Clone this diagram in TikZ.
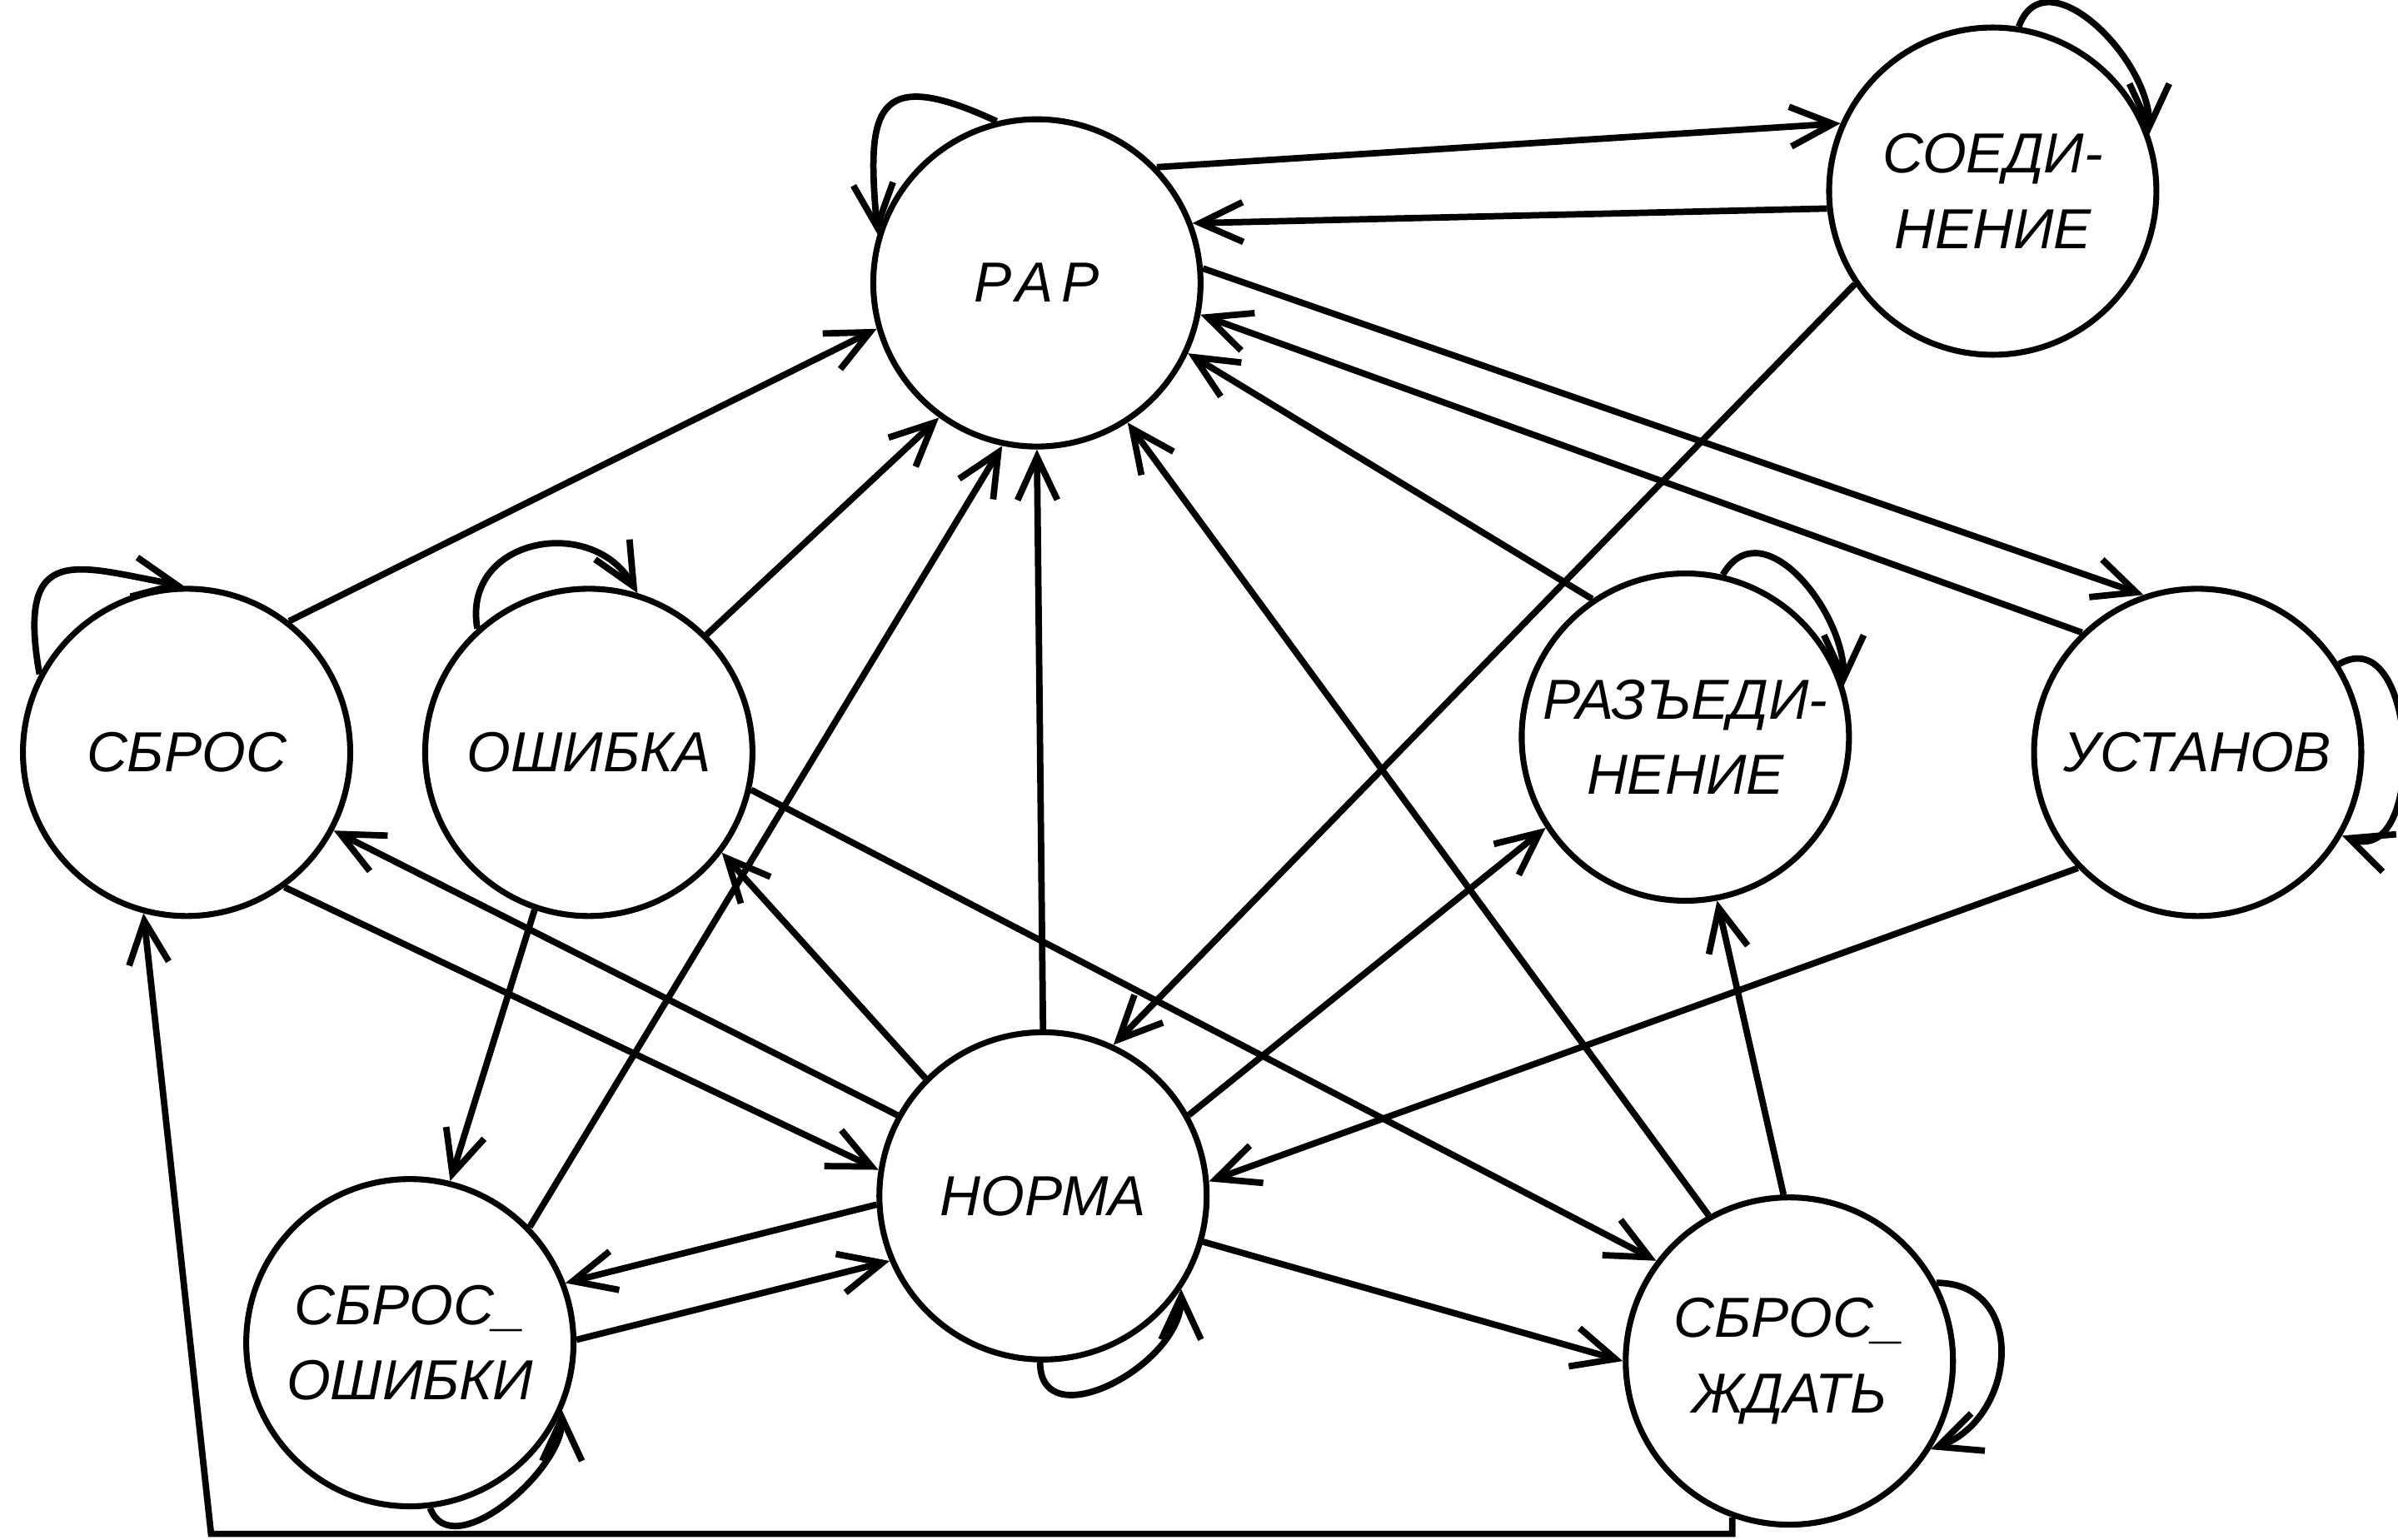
\documentclass[tikz,border=0pt]{standalone}
\usepackage{fontspec}
\setmainfont{Liberation Sans}
\usetikzlibrary{arrows.meta}

\begin{document}
\begin{tikzpicture}[every node/.style={font=\fontsize{10.5}{14}\selectfont\itshape},
  state/.style={draw, circle, line width=1.1pt, minimum size=2.14cm, inner sep=0pt, align=center},
  arr/.style={line width=1.2pt, -{Straight Barb[length=2.8mm,width=2.6mm]}}]
  \useasboundingbox (0,0) rectangle (15.68,10.07);
  \node [state] (rap) at (6.78, 8.22) {\addfontfeature{LetterSpace=15}РАР};
  \node [state] (soed) at (13.03, 8.82) {СОЕДИ-\\НЕНИЕ};
  \node [state] (sbros) at (1.22, 5.15) {СБРОС};
  \node [state] (osh) at (3.85, 5.15) {ОШИБКА};
  \node [state] (razed) at (11.02, 5.25) {РАЗЪЕДИ-\\НЕНИЕ};
  \node [state] (ust) at (14.37, 5.15) {УСТАНОВ};
  \node [state] (norma) at (6.82, 2.25) {НОРМА};
  \node [state] (sbosh) at (2.68, 1.29) {СБРОС\_\\ОШИБКИ};
  \node [state] (sbwait) at (11.70, 1.17) {СБРОС\_\\ЖДАТЬ};
  \draw [arr] (rap.44) -- (soed.156);
  \draw [arr] (soed.186) -- (rap.21);
  \draw [arr] (rap.5) -- (ust.109);
  \draw [arr] (ust.134) -- (rap.-11);
  \draw [arr] (razed.124) -- (rap.-25);
  \draw [arr] (soed.214) -- (norma.65);
  \draw [arr] (sbwait.119) -- (rap.-57);
  \draw [arr] (norma.north) -- (rap.south);
  \draw [arr] (sbosh.44) -- (rap.-102);
  \draw [arr] (osh.45) -- (rap.-126);
  \draw [arr] (sbros.52) -- (rap.196);
  \draw [arr] (ust.224) -- (norma.5);
  \draw [arr] (norma.29) -- (razed.213);
  \draw [arr] (sbwait.92) -- (razed.-79);
  \draw [arr] (osh.-13) -- (sbwait.143);
  \draw [arr] (norma.-16) -- (sbwait.180);
  \draw [arr] (norma.151) -- (sbros.-28);
  \draw [arr] (sbros.-54) -- (norma.171);
  \draw [arr] (norma.135) -- (osh.-37);
  \draw [arr] (osh.-109) -- (sbosh.76);
  \draw [arr] (norma.183) -- (sbosh.21);
  \draw [arr] (sbosh.1) -- (norma.203);
  \coordinate (corner) at (1.38, 0.04);
  \draw [arr] (sbwait.250) |- (corner) -- (sbros.255);
  % self loops
  \draw [arr] (rap.104) .. controls +(155:0.9) and +(95:0.8) .. (rap.163);
  \draw [arr] (soed.81) .. controls +(70:0.5) and +(90:0.5) .. (soed.20);
  \draw [arr] (sbros.152) .. controls +(100:0.9) and +(170:0.7) .. (sbros.91);
  \draw [arr] (osh.132) .. controls +(100:0.6) and +(120:0.6) .. (osh.73);
  \draw [arr] (razed.77) .. controls +(60:0.5) and +(90:0.5) .. (razed.18);
  \draw [arr] (ust.32) .. controls +(30:0.6) and +(-20:0.6) .. (ust.-30);
  \draw [arr] (norma.-91) .. controls +(-90:0.5) and +(-90:0.5) .. (norma.-34);
  \draw [arr] (sbosh.-83) .. controls +(-70:0.4) and +(-90:0.4) .. (sbosh.-24);
  \draw [arr] (sbwait.28) .. controls +(0:0.6) and +(20:0.6) .. (sbwait.-32);
\end{tikzpicture}
\end{document}
